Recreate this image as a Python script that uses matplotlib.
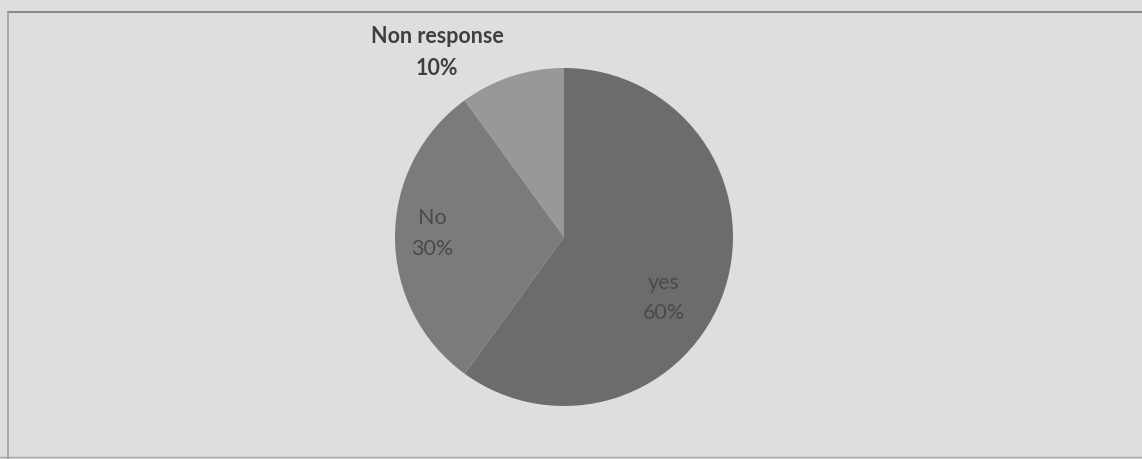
import matplotlib
matplotlib.use("Agg")
import matplotlib.pyplot as plt
from matplotlib.lines import Line2D

# data
categories = ["yes", "No", "Non response"]
shares = [60, 30, 10]
slice_colors = ["#6c6c6c", "#7b7b7b", "#989898"]
# label centre positions, in pie radius units
label_pos = [(0.59, -0.36), (-0.78, 0.02), (-0.75, 1.09)]
label_bold = [False, False, True]

plt.rcParams['font.family'] = ['Lato', 'DejaVu Sans']

W, H = 1142, 459
fig = plt.figure(figsize=(W / 100, H / 100), dpi=100)
fig.patch.set_facecolor("#dedede")

# frame lines like the scanned chart border
fig.add_artist(Line2D([8 / W, 1], [1 - 12 / H, 1 - 12 / H], color="#8a8a8a", lw=1.5))
fig.add_artist(Line2D([8 / W, 8 / W], [0, 1 - 12 / H], color="#a0a0a0", lw=1.2))
fig.add_artist(Line2D([0, 1], [2 / H, 2 / H], color="#a8a8a8", lw=1.0))

cx, cy, r = 564, 237, 169
ax = fig.add_axes([(cx - r) / W, (H - cy - r) / H, 2 * r / W, 2 * r / H])
ax.set_facecolor("none")

wedges, _ = ax.pie(shares, colors=slice_colors, startangle=90, counterclock=False,
                   radius=1, wedgeprops=dict(linewidth=0))

for name, val, (lx, ly), bold in zip(categories, shares, label_pos, label_bold):
    ax.text(lx, ly, f"{name}\n{val}%", ha="center", va="center",
            fontsize=15.5, color="#3f3f3f" if bold else "#4a4a4a",
            fontweight="bold" if bold else "normal",
            linespacing=1.65, clip_on=False)

ax.set_xlim(-1, 1)
ax.set_ylim(-1, 1)
ax.axis("off")

fig.savefig("out.png", dpi=100, facecolor=fig.get_facecolor())
